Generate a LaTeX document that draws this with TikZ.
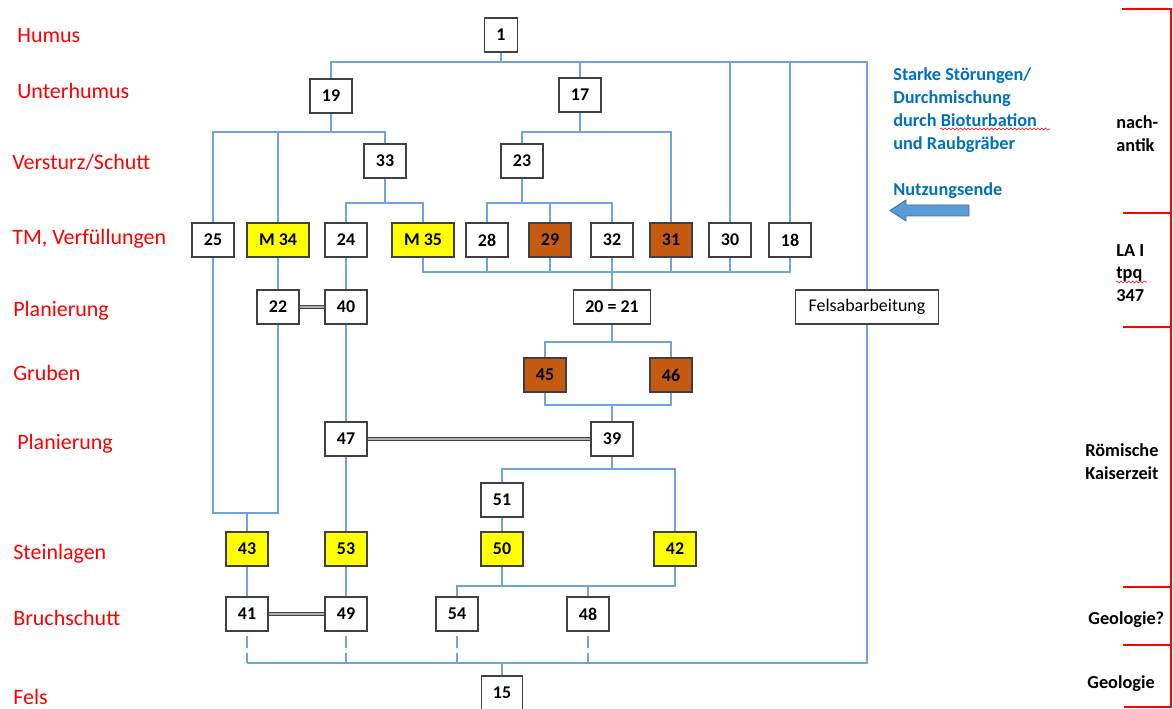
\documentclass[tikz,border=0pt]{standalone}
\usepackage{fontspec}
\setmainfont{Carlito}
\usetikzlibrary{calc,positioning,backgrounds,decorations.pathmorphing}

\definecolor{connblue}{RGB}{110,165,222}
\definecolor{boxgray}{RGB}{64,64,64}
\definecolor{pitbrown}{RGB}{197,90,17}
\definecolor{stoneyellow}{RGB}{255,255,0}
\definecolor{noteblue}{RGB}{0,112,192}
\definecolor{arrowfill}{RGB}{91,155,213}
\definecolor{arrowedge}{RGB}{65,113,156}

\tikzset{
  unit/.style={draw=boxgray, line width=0.8pt, fill=white, minimum width=0.84cm,
    minimum height=0.68cm, inner sep=1pt, font=\fontsize{10.2}{12}\selectfont\bfseries},
  wideunit/.style={unit, minimum width=1.24cm},
  pit/.style={fill=pitbrown},
  stone/.style={fill=stoneyellow},
  conn/.style={draw=connblue, line width=0.75pt},
  same/.style={draw=black!75, double=black!30, double distance=0.6pt, line width=0.65pt},
  layer/.style={anchor=base west, inner sep=0pt, text=red, font=\fontsize{12.5}{15}\selectfont},
  period/.style={font=\fontsize{10.4}{13}\selectfont\bfseries, align=left, inner sep=0pt},
  bracket/.style={draw=red, line width=1.1pt},
  typo/.style={draw=red, line width=0.3pt, decorate,
    decoration={snake, amplitude=0.6pt, segment length=2.2pt}},
}

\begin{document}
\begin{tikzpicture}[x=0.02cm, y=-0.02cm]
\useasboundingbox (0,0) rectangle (1173,709);
% layer names
\node[layer] (hum) at (17,43) {Humus};
\node[layer] (uhum) at (17,99) {Unterhumus};
\node[layer] (vers) at (12,170) {Versturz/Schutt};
\node[layer] (tm) at (12,245) {TM, Verfüllungen};
\node[layer] (plan) at (13,317) {Planierung};
\node[layer] (grub) at (13,380) {Gruben};
\node[layer] (plan2) at (17,449) {Planierung};
\node[layer] (stein) at (13,559) {Steinlagen};
\node[layer] (bruch) at (13,625) {Bruchschutt};
\node[layer] (fels) at (13,704) {Fels};
% units
\node[unit, minimum width=0.66cm] (u1) at (501,35) {1};
\node[unit] (u19) at (331,96) {19};
\node[unit] (u17) at (580,95) {17};
\node[unit] (u33) at (385,161) {33};
\node[unit] (u23) at (522,161) {23};
% TM row
\node[unit] (u25) at (213,240) {25};
\node[wideunit, stone] (u34) at (278,240) {M 34};
\node[unit] (u24) at (346,240) {24};
\node[wideunit, stone] (u35) at (423,240) {M 35};
\node[unit] (u28) at (487,240) {28};
\node[unit, pit] (u29) at (550,240) {29};
\node[unit] (u32) at (612,240) {32};
\node[unit, pit] (u31) at (671,240) {31};
\node[unit] (u30) at (730,240) {30};
\node[unit] (u18) at (790,240) {18};
% Planierung, Gruben
\node[unit] (u22) at (278,307) {22};
\node[unit] (u40) at (346,307) {40};
\node[unit, minimum width=1.54cm] (u20) at (612,307) {20 = 21};
\node[unit, minimum width=2.86cm, font=\fontsize{10.2}{12}\selectfont] (ufels) at (867,307) {Felsabarbeitung};
\node[unit, pit] (u45) at (545,375) {45};
\node[unit, pit] (u46) at (671,375) {46};
\node[unit] (u47) at (346,439) {47};
\node[unit] (u39) at (612,439) {39};
\node[unit] (u51) at (502,500) {51};
% Steinlagen, Bruchschutt
\node[unit, stone] (u43) at (247,549) {43};
\node[unit, stone] (u53) at (346,549) {53};
\node[unit, stone] (u50) at (502,549) {50};
\node[unit, stone] (u42) at (675,549) {42};
\node[unit] (u41) at (247,614) {41};
\node[unit] (u49) at (346,614) {49};
\node[unit] (u54) at (457,614) {54};
\node[unit] (u48) at (588,614) {48};
\node[unit, minimum width=0.82cm] (u15) at (502,693) {15};
% levels of the connectors
\coordinate (T) at (0,62);
\coordinate (A19) at (0,132);
\coordinate (A33) at (0,203);
\coordinate (TMb) at (0,272);
\coordinate (A20) at (0,342);
\coordinate (B45) at (0,405);
\coordinate (A39) at (0,469);
\coordinate (loop) at (0,513);
\coordinate (A50) at (0,586);
\coordinate (base) at (0,663);
\coordinate (rim) at (867,62);
\begin{scope}[on background layer]
% top line and frame
\draw[conn] (u1.south) -- (u1 |- T);
\draw[conn] (u19.north) |- (rim) -- (rim |- base) -- (u41 |- base);
\foreach \u in {u17,u30,u18} \draw[conn] (\u.north) -- (\u |- T);
% below 19 and 17
\draw[conn] (u19.south) -- (u19 |- A19);
\draw[conn] (u25.north) |- (u33 |- A19) -- (u33.north);
\draw[conn] (u34.north) -- (u34 |- A19);
\draw[conn] (u17.south) -- (u17 |- A19);
\draw[conn] (u23.north) |- (u31 |- A19) -- (u31.north);
% below 33 and 23
\draw[conn] (u33.south) -- (u33 |- A33);
\draw[conn] (u24.north) |- (u35 |- A33) -- (u35.north);
\draw[conn] (u23.south) -- (u23 |- A33);
\draw[conn] (u28.north) |- (u32 |- A33) -- (u32.north);
\draw[conn] (u29.north) -- (u29 |- A33);
% below TM row
\draw[conn] (u35.south) |- (u18 |- TMb) -- (u18.south);
\foreach \u in {u28,u29,u31,u30} \draw[conn] (\u.south) -- (\u |- TMb);
\draw[conn] (u32.south) -- (u20.north);
\draw[conn] (u34.south) -- (u22.north);
\draw[conn] (u24.south) -- (u40.north);
% pits
\draw[conn] (u20.south) -- (u20 |- A20);
\draw[conn] (u45.north) |- (u46 |- A20) -- (u46.north);
\draw[conn] (u45.south) |- (u46 |- B45) -- (u46.south);
\draw[conn] (u39.north) -- (u39 |- B45);
\draw[conn] (u40.south) -- (u47.north);
\draw[conn] (u39.south) -- (u39 |- A39);
\draw[conn] (u51.north) |- (u42 |- A39) -- (u42.north);
\draw[conn] (u25.south) |- (u22 |- loop) -- (u22.south);
\draw[conn] (u43.north) -- (u43 |- loop);
% Steinlagen to Bruchschutt
\draw[conn] (u47.south) -- (u53.north);
\draw[conn] (u51.south) -- (u50.north);
\draw[conn] (u43.south) -- (u41.north);
\draw[conn] (u53.south) -- (u49.north);
\draw[conn] (u50.south) -- (u50 |- A50);
\draw[conn] (u54.north) |- (u42 |- A50) -- (u42.south);
\draw[conn] (u48.north) -- (u48 |- A50);
\foreach \u in {u41,u49,u54,u48}
  \draw[conn, dash pattern=on 6.8pt off 2.8pt] ($(\u.south)+(0,4)$) -- (\u |- base);
\draw[conn] (u15.north) -- (u15 |- base);
\end{scope}
% same units
\draw[same] (u22.east) -- (u40.west);
\draw[same] (u47.east) -- (u39.west);
\draw[same] (u41.east) -- (u49.west);
% notes
\node[period, text=noteblue, anchor=west] (note) at (893,110)
  {Starke Störungen/\\Durchmischung\\durch Bioturbation\\und Raubgräber};
\draw[typo] (940,129) -- (1050,129);
\node[period, text=noteblue, anchor=base west] (ende) at (893,196) {Nutzungsende};
\draw[fill=arrowfill, draw=arrowedge, line width=0.5pt]
  (969,205) -- (906,205) -- (906,200) -- (890,210.5) -- (906,221) -- (906,216) -- (969,216) -- cycle;
% periods
\node[period, anchor=west] (nach) at (1116,134) {nach-\\antik};
\node[period, anchor=west] (la) at (1116,273) {LA I\\tpq\\347};
\draw[typo] (1116,282) -- (1147,282);
\node[period, anchor=west] (roem) at (1085,462) {Römische\\Kaiserzeit};
\node[period, anchor=base west] (geo1) at (1088,624) {Geologie?};
\node[period, anchor=base west] (geo2) at (1087,688) {Geologie};
\draw[bracket] (1122,9) -- (1171,9) -- (1171,707) -- (1124,707);
\foreach \yy in {213,327,587,645} \draw[bracket] (1123,\yy) -- (1171,\yy);
\end{tikzpicture}
\end{document}
